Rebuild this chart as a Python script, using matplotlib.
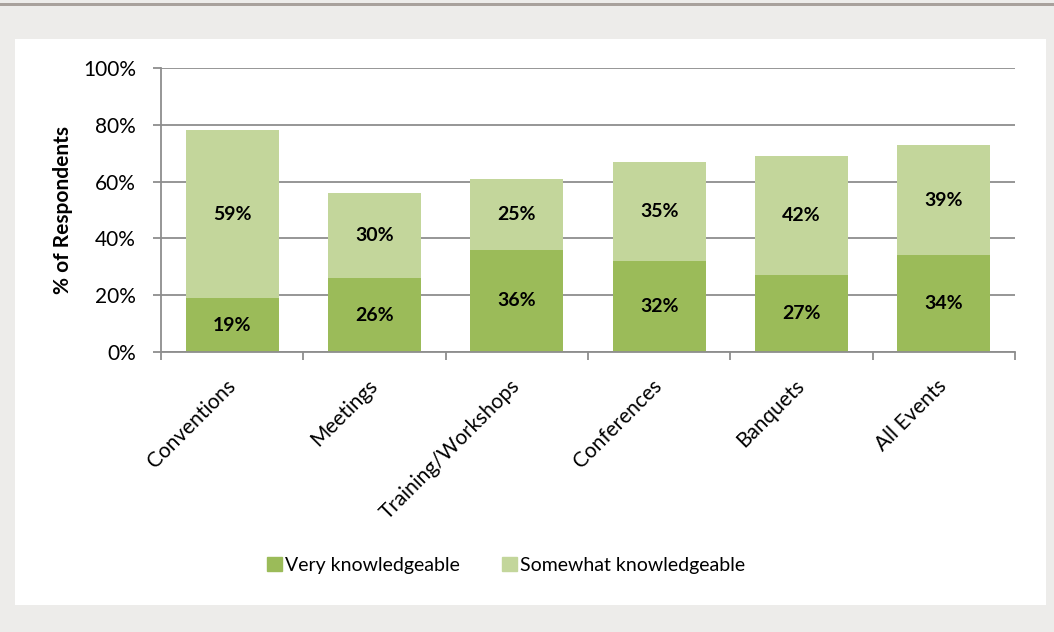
import matplotlib
matplotlib.use("Agg")
import matplotlib.pyplot as plt
import matplotlib.patches as mpatches
from matplotlib.ticker import FixedLocator, PercentFormatter
import numpy as np

plt.rcParams['font.family'] = ['Lato', 'DejaVu Sans']

categories = ["Conventions", "Meetings", "Training/Workshops",
              "Conferences", "Banquets", "All Events"]
very = [19, 26, 36, 32, 27, 34]
somewhat = [59, 30, 25, 35, 42, 39]
series_names = ["Very knowledgeable", "Somewhat knowledgeable"]
y_ticks = [0, 20, 40, 60, 80, 100]

dark_green = "#9BBB59"
light_green = "#C3D69B"
grid_grey = "#8E8E8E"

W, H = 1054, 632
fig = plt.figure(figsize=(W / 100, H / 100), dpi=100, facecolor="#EDECEA")

# top rule and white chart panel, kept behind the axes
fig.add_artist(mpatches.Rectangle((0, 1 - 6 / H), 1, 3 / H, transform=fig.transFigure,
                                  facecolor="#A8A19C", edgecolor="none", zorder=-2))
fig.add_artist(mpatches.Rectangle((15 / W, 1 - 605 / H), 1031 / W, 566 / H,
                                  transform=fig.transFigure,
                                  facecolor="white", edgecolor="none", zorder=-2))

ax = fig.add_axes([161 / W, 1 - 352 / H, 854 / W, 284 / H])
ax.set_facecolor("none")

x = np.arange(len(categories))
bw = 0.655
ax.bar(x, very, bw, color=dark_green, label=series_names[0], zorder=3)
ax.bar(x, somewhat, bw, bottom=very, color=light_green,
       label=series_names[1], zorder=3)

for i in range(len(categories)):
    ax.text(x[i], very[i] / 2, f"{very[i]}%", ha="center", va="center",
            fontsize=14, fontweight="bold", color="black", zorder=4)
    ax.text(x[i], very[i] + somewhat[i] / 2, f"{somewhat[i]}%", ha="center",
            va="center", fontsize=14, fontweight="bold", color="black", zorder=4)

ax.set_xlim(-0.5, len(categories) - 0.5)
ax.set_ylim(0, 100)
ax.set_yticks(y_ticks)
ax.yaxis.set_major_formatter(PercentFormatter(decimals=0))
ax.grid(axis="y", color=grid_grey, linewidth=1.3, zorder=0)

for s in ["top", "right"]:
    ax.spines[s].set_visible(False)
for s in ["left", "bottom"]:
    ax.spines[s].set_color(grid_grey)
    ax.spines[s].set_linewidth(1.3)
    ax.spines[s].set_zorder(5)

ax.tick_params(axis="y", length=6, width=1.3, color=grid_grey, pad=12,
               labelsize=15, labelcolor="black")

# category boundaries carry the ticks, centres carry the labels
ax.xaxis.set_major_locator(FixedLocator(np.arange(-0.5, len(categories), 1.0)))
ax.xaxis.set_minor_locator(FixedLocator(x))
ax.tick_params(axis="x", which="major", length=6, width=1.3, color=grid_grey,
               labelbottom=False)
ax.tick_params(axis="x", which="minor", length=0, pad=22, labelsize=15,
               labelcolor="black")
ax.set_xticklabels(categories, minor=True, rotation=45, ha="right", va="center",
                   rotation_mode="anchor")

ax.set_ylabel("% of Respondents", fontsize=15, fontweight="bold", color="black")
ax.yaxis.set_label_coords((73 - 161) / 854, 0.5)

handles = [mpatches.Patch(color=dark_green), mpatches.Patch(color=light_green)]
fig.legend(handles, series_names, loc="center", bbox_to_anchor=(506 / W, 1 - 565 / H),
           ncol=2, frameon=False, fontsize=14, handlelength=0.75, handleheight=0.75,
           handletextpad=0.15, columnspacing=2.2)

fig.savefig("out.png", dpi=100, facecolor=fig.get_facecolor())
